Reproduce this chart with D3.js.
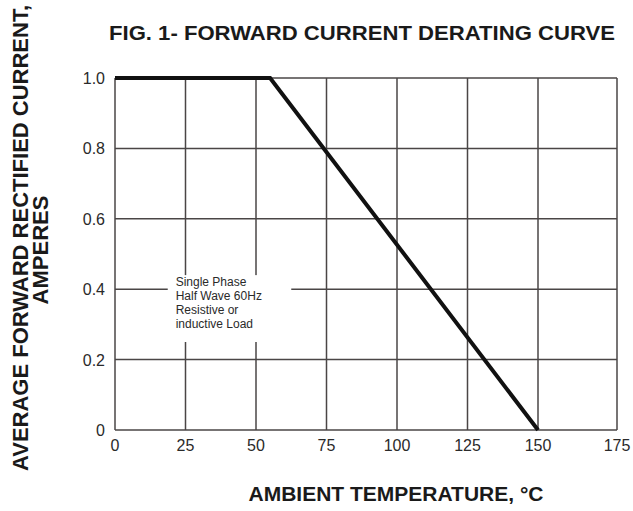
<!DOCTYPE html>
<html>
<head>
<meta charset="utf-8">
<title>Forward Current Derating Curve</title>
<script src="https://d3js.org/d3.v7.min.js"></script>
<style>
    body { margin: 0; padding: 0; background: #ffffff; }
    text { font-family: "Liberation Sans", Arial, sans-serif; }
</style>
</head>
<body>
<div id="chart"></div>
<script>
    // data
    var tempPoints = [0, 55, 150];
    var currentPoints = [1.0, 1.0, 0];
    var xTicks = [0, 25, 50, 75, 100, 125, 150, 175];
    var yTicks = [0, 0.2, 0.4, 0.6, 0.8, 1.0];
    var yTickLabels = ["0", "0.2", "0.4", "0.6", "0.8", "1.0"];
    var noteLines = ["Single Phase", "Half Wave 60Hz", "Resistive or", "inductive Load"];

    var W = 633, H = 511;
    var margin = { top: 78, right: 16, bottom: 81, left: 115 };
    var width = W - margin.left - margin.right;
    var height = H - margin.top - margin.bottom;

    var svg = d3.select("#chart").append("svg")
        .attr("width", W)
        .attr("height", H);

    var g = svg.append("g")
        .attr("transform", "translate(" + margin.left + "," + margin.top + ")");

    // last column in the scan is a little wider than the others
    var x = d3.scaleLinear()
        .domain([0, 150, 175])
        .range([0, width * 423 / 502, width]);

    var y = d3.scaleLinear()
        .domain([0, 1])
        .range([height, 0]);

    var gridColor = "#4a4646";

    // grid
    g.selectAll(".vgrid")
        .data(xTicks)
        .enter().append("line")
        .attr("class", "vgrid")
        .attr("x1", function (d) { return x(d); })
        .attr("x2", function (d) { return x(d); })
        .attr("y1", 0)
        .attr("y2", height)
        .attr("stroke", gridColor)
        .attr("stroke-width", 1.5);

    g.selectAll(".hgrid")
        .data(yTicks)
        .enter().append("line")
        .attr("class", "hgrid")
        .attr("x1", 0)
        .attr("x2", width)
        .attr("y1", function (d) { return y(d); })
        .attr("y2", function (d) { return y(d); })
        .attr("stroke", gridColor)
        .attr("stroke-width", 1.5);

    // note box blanks out the grid behind it
    var note = g.append("g");
    note.append("rect")
        .attr("x", x(18.7))
        .attr("y", y(0.44))
        .attr("width", x(62.5) - x(18.7))
        .attr("height", y(0.25) - y(0.44))
        .attr("fill", "#ffffff");
    note.selectAll("text")
        .data(noteLines)
        .enter().append("text")
        .attr("x", x(21.5))
        .attr("y", function (d, i) { return y(0.41) + i * 14; })
        .attr("font-size", 12)
        .attr("fill", "#2a2a2a")
        .text(function (d) { return d; });

    // curve
    var line = d3.line()
        .x(function (d) { return x(d[0]); })
        .y(function (d) { return y(d[1]); });

    g.append("path")
        .datum(d3.zip(tempPoints, currentPoints))
        .attr("d", line)
        .attr("fill", "none")
        .attr("stroke", "#111111")
        .attr("stroke-width", 4)
        .attr("stroke-linejoin", "miter");

    // tick labels
    g.selectAll(".xlab")
        .data(xTicks)
        .enter().append("text")
        .attr("x", function (d) { return x(d); })
        .attr("y", height + 21)
        .attr("text-anchor", "middle")
        .attr("font-size", 16)
        .attr("fill", "#2a2a2a")
        .text(function (d) { return d; });

    g.selectAll(".ylab")
        .data(yTicks)
        .enter().append("text")
        .attr("x", -10)
        .attr("y", function (d) { return y(d) + 6; })
        .attr("text-anchor", "end")
        .attr("font-size", 16)
        .attr("fill", "#2a2a2a")
        .text(function (d, i) { return yTickLabels[i]; });

    // titles
    svg.append("text")
        .attr("x", 362)
        .attr("y", 40)
        .attr("text-anchor", "middle")
        .attr("font-size", 21)
        .attr("font-weight", "bold")
        .attr("fill", "#1a1a1a")
        .attr("textLength", 506)
        .attr("lengthAdjust", "spacingAndGlyphs")
        .text("FIG. 1- FORWARD CURRENT DERATING CURVE");

    svg.append("text")
        .attr("x", 396)
        .attr("y", 501)
        .attr("text-anchor", "middle")
        .attr("font-size", 21)
        .attr("font-weight", "bold")
        .attr("fill", "#1a1a1a")
        .text("AMBIENT TEMPERATURE, \u00B0C");

    svg.append("text")
        .attr("transform", "translate(28,238) rotate(-90)")
        .attr("text-anchor", "middle")
        .attr("font-size", 22)
        .attr("font-weight", "bold")
        .attr("fill", "#1a1a1a")
        .text("AVERAGE FORWARD RECTIFIED CURRENT,");

    svg.append("text")
        .attr("transform", "translate(48,250) rotate(-90)")
        .attr("text-anchor", "middle")
        .attr("font-size", 22)
        .attr("font-weight", "bold")
        .attr("fill", "#1a1a1a")
        .text("AMPERES");
</script>
</body>
</html>
